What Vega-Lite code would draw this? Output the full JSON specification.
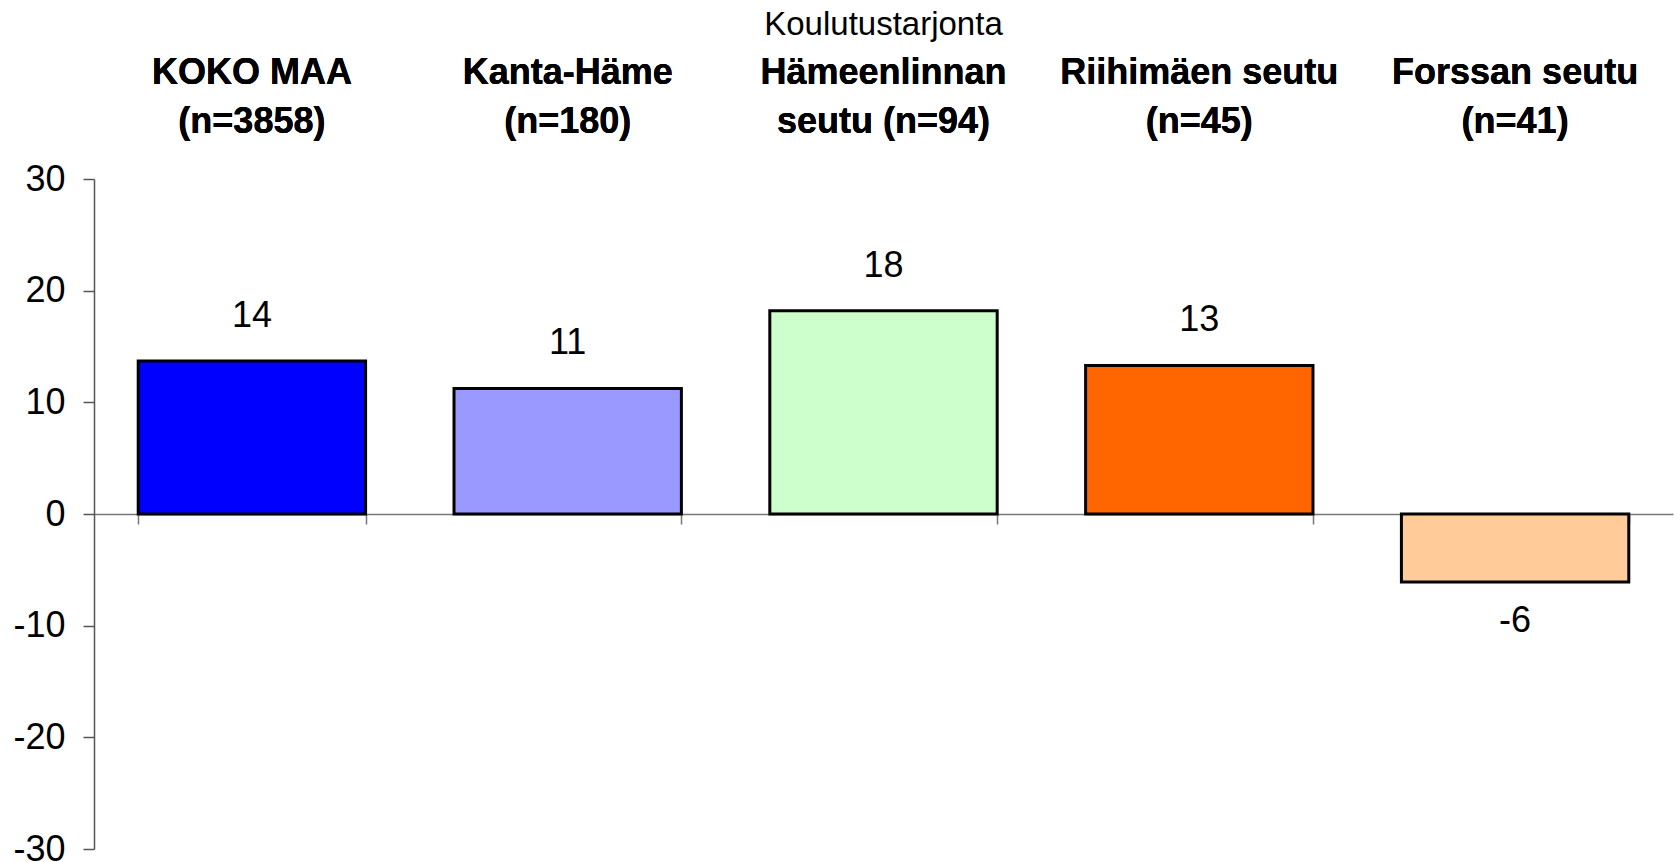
{
  "$schema": "https://vega.github.io/schema/vega-lite/v6.json",
  "width": 1579,
  "height": 670,
  "autosize": {"type": "none"},
  "padding": {"left": 94, "top": 179, "right": 7, "bottom": 13},
  "background": "white",
  "title": {
    "text": "Koulutustarjonta",
    "font": "Liberation Sans",
    "fontSize": 33,
    "fontWeight": "normal",
    "color": "black",
    "anchor": "middle",
    "offset": 12
  },
  "config": {
    "view": {"stroke": null},
    "axis": {"grid": false},
    "locale": {
      "number": {
        "decimal": ".",
        "thousands": ",",
        "grouping": [3],
        "currency": ["$", ""],
        "minus": "-"
      }
    }
  },
  "data": {
    "values": [
      {"alue": "KOKO MAA\n(n=3858)", "arvo": 13.7, "vari": "#0000FF"},
      {"alue": "Kanta-Häme\n(n=180)", "arvo": 11.25, "vari": "#9999FF"},
      {"alue": "Hämeenlinnan\nseutu (n=94)", "arvo": 18.2, "vari": "#CCFFCC"},
      {"alue": "Riihimäen seutu\n(n=45)", "arvo": 13.3, "vari": "#FF6600"},
      {"alue": "Forssan seutu\n(n=41)", "arvo": -6.1, "vari": "#FFCC99"}
    ]
  },
  "encoding": {
    "x": {
      "field": "alue",
      "type": "nominal",
      "sort": null,
      "scale": {"paddingInner": 0.28, "paddingOuter": 0.14},
      "axis": {
        "orient": "top",
        "title": null,
        "domain": false,
        "ticks": false,
        "labelAngle": 0,
        "labelExpr": "split(datum.label, '\\n')",
        "labelFont": "Liberation Sans",
        "labelFontSize": 36,
        "labelFontWeight": "bold",
        "labelColor": "black",
        "labelLineHeight": 49,
        "labelPadding": 88,
        "labelLimit": 0
      }
    }
  },
  "layer": [
    {
      "mark": {"type": "bar", "stroke": "black", "strokeWidth": 3},
      "encoding": {
        "y": {
          "field": "arvo",
          "type": "quantitative",
          "scale": {"domain": [-30, 30], "nice": false, "zero": true},
          "axis": {
            "title": null,
            "values": [-30, -20, -10, 0, 10, 20, 30],
            "labelExpr": "replace(datum.label, '\u2212', '-')",
            "labelFont": "Liberation Sans",
            "labelFontSize": 36,
            "labelColor": "black",
            "labelPadding": 18,
            "tickSize": 11,
            "tickColor": "#555555",
            "domainColor": "#555555",
            "domainWidth": 1.5,
            "tickWidth": 1.5
          }
        },
        "fill": {"field": "vari", "type": "nominal", "scale": null, "legend": null}
      }
    },
    {
      "mark": {"type": "rule", "opacity": 0},
      "encoding": {
        "x2": {"value": 0},
        "x": {
          "field": "alue",
          "type": "nominal",
          "sort": null,
          "axis": {
            "orient": "bottom",
            "offset": -335,
            "title": null,
            "labels": false,
            "tickBand": "extent",
            "tickSize": 10,
            "tickColor": "#777777",
            "domainColor": "#777777",
            "domainWidth": 1.5,
            "tickWidth": 1.5
          }
        }
      }
    },
    {
      "transform": [{"filter": "datum.arvo >= 0"}],
      "mark": {"type": "text", "baseline": "alphabetic", "dy": -34, "font": "Liberation Sans", "fontSize": 36, "color": "black"},
      "encoding": {
        "y": {"field": "arvo", "type": "quantitative"},
        "text": {"field": "arvo", "type": "quantitative", "format": ".0f"}
      }
    },
    {
      "transform": [{"filter": "datum.arvo < 0"}],
      "mark": {"type": "text", "baseline": "alphabetic", "dy": 50, "font": "Liberation Sans", "fontSize": 36, "color": "black"},
      "encoding": {
        "y": {"field": "arvo", "type": "quantitative"},
        "text": {"field": "arvo", "type": "quantitative", "format": ".0f"}
      }
    }
  ],
  "resolve": {"axis": {"x": "independent"}}
}
